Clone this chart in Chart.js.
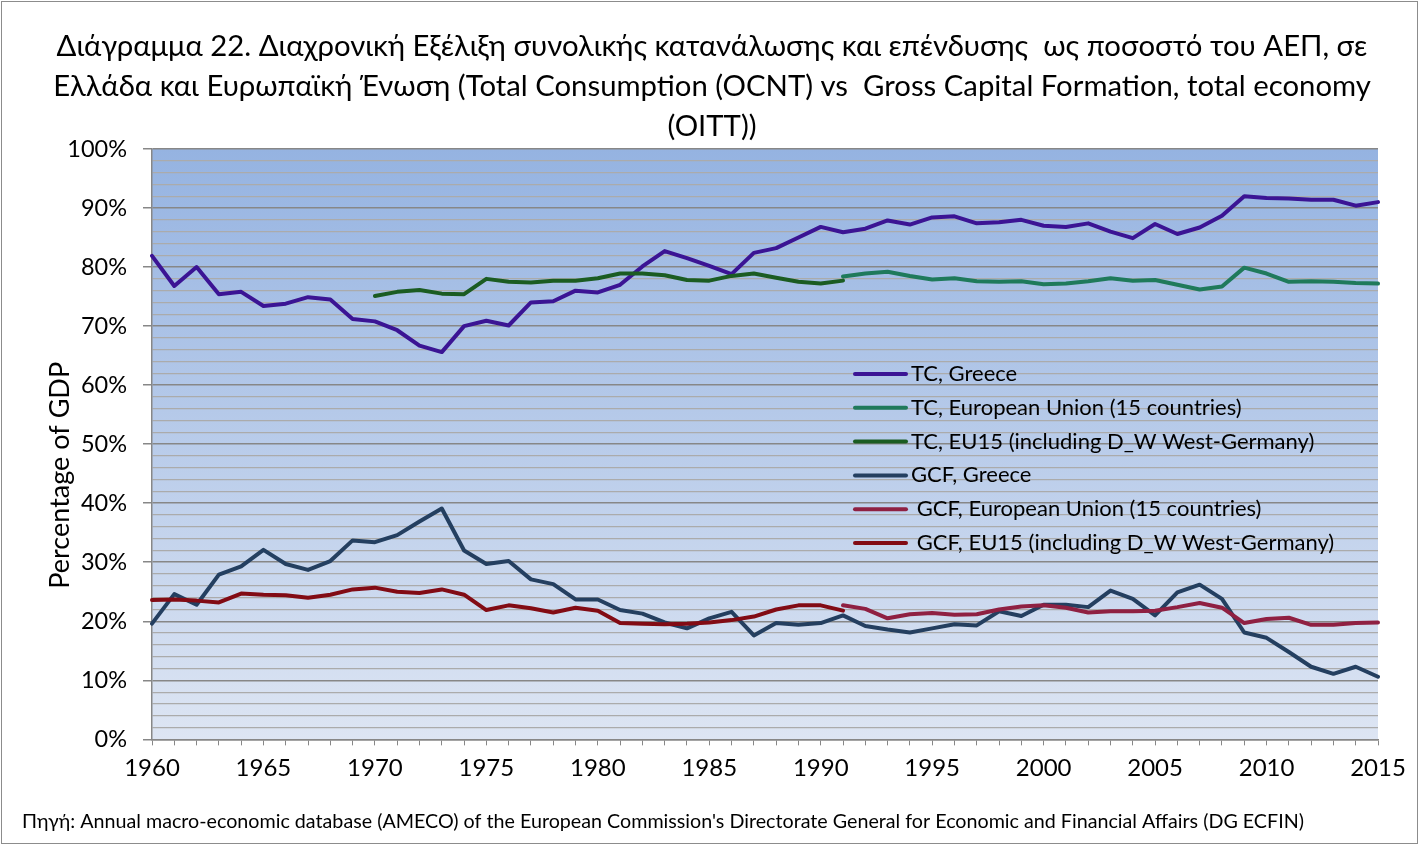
<!DOCTYPE html>
<html>
<head>
<meta charset="utf-8">
<title>Διάγραμμα 22</title>
<script src="https://cdn.jsdelivr.net/npm/chart.js@4.4.1/dist/chart.umd.min.js"></script>
<style>
	html, body { margin: 0; padding: 0; background: #fff; }
	canvas { display: block; }
</style>
</head>
<body>
<canvas id="chart" width="1424" height="845"></canvas>
<script>
// Years on the x axis
const years = [
	1960, 1961, 1962, 1963, 1964, 1965, 1966, 1967, 1968, 1969,
	1970, 1971, 1972, 1973, 1974, 1975, 1976, 1977, 1978, 1979,
	1980, 1981, 1982, 1983, 1984, 1985, 1986, 1987, 1988, 1989,
	1990, 1991, 1992, 1993, 1994, 1995, 1996, 1997, 1998, 1999,
	2000, 2001, 2002, 2003, 2004, 2005, 2006, 2007, 2008, 2009,
	2010, 2011, 2012, 2013, 2014, 2015
];

// Total consumption, % of GDP
const tcGreece = [
	81.9, 76.8, 80.0, 75.4, 75.8, 73.4, 73.8, 74.9, 74.5, 71.2,
	70.8, 69.3, 66.7, 65.6, 70.0, 70.9, 70.1, 74.0, 74.2, 76.0,
	75.7, 77.0, 80.1, 82.7, 81.5, 80.2, 78.8, 82.4, 83.2, 85.0,
	86.8, 85.9, 86.5, 87.9, 87.2, 88.4, 88.6, 87.4, 87.6, 88.0,
	87.0, 86.8, 87.4, 86.0, 84.9, 87.3, 85.6, 86.7, 88.7, 92.0,
	91.7, 91.6, 91.4, 91.4, 90.4, 91.0
];
const tcEU15 = [
	null, null, null, null, null, null, null, null, null, null,
	null, null, null, null, null, null, null, null, null, null,
	null, null, null, null, null, null, null, null, null, null,
	null, 78.4, 78.9, 79.2, 78.5, 77.9, 78.1, 77.6, 77.5, 77.6,
	77.1, 77.2, 77.6, 78.1, 77.7, 77.8, 77.0, 76.2, 76.7, 79.9,
	78.9, 77.5, 77.6, 77.5, 77.3, 77.2
];
const tcEU15DW = [
	null, null, null, null, null, null, null, null, null, null,
	75.1, 75.8, 76.1, 75.5, 75.4, 78.0, 77.5, 77.4, 77.7, 77.7,
	78.1, 78.9, 78.9, 78.6, 77.8, 77.7, 78.5, 78.9, 78.2, 77.5,
	77.2, 77.7, null, null, null, null, null, null, null, null,
	null, null, null, null, null, null, null, null, null, null,
	null, null, null, null, null, null
];

// Gross capital formation, % of GDP
const gcfGreece = [
	19.6, 24.6, 22.8, 27.9, 29.3, 32.1, 29.7, 28.7, 30.2, 33.7,
	33.4, 34.6, 36.9, 39.1, 32.0, 29.7, 30.2, 27.1, 26.3, 23.7,
	23.7, 21.9, 21.3, 19.8, 18.8, 20.5, 21.6, 17.6, 19.7, 19.4,
	19.7, 21.0, 19.2, 18.6, 18.1, 18.8, 19.5, 19.3, 21.7, 20.9,
	22.8, 22.8, 22.4, 25.2, 23.8, 21.0, 24.9, 26.2, 23.8, 18.1,
	17.2, 14.8, 12.3, 11.1, 12.3, 10.6
];
const gcfEU15 = [
	null, null, null, null, null, null, null, null, null, null,
	null, null, null, null, null, null, null, null, null, null,
	null, null, null, null, null, null, null, null, null, null,
	null, 22.7, 22.1, 20.5, 21.2, 21.4, 21.1, 21.2, 22.0, 22.5,
	22.7, 22.3, 21.5, 21.7, 21.7, 21.8, 22.4, 23.1, 22.3, 19.7,
	20.4, 20.6, 19.4, 19.4, 19.7, 19.8
];
const gcfEU15DW = [
	23.6, 23.7, 23.5, 23.2, 24.7, 24.5, 24.4, 24.0, 24.5, 25.4,
	25.7, 25.0, 24.8, 25.4, 24.5, 21.9, 22.7, 22.2, 21.5, 22.3,
	21.8, 19.7, 19.6, 19.5, 19.6, 19.8, 20.2, 20.8, 22.0, 22.7,
	22.7, 21.8, null, null, null, null, null, null, null, null,
	null, null, null, null, null, null, null, null, null, null,
	null, null, null, null, null, null
];

const seriesLabels = [
	"TC, Greece",
	"TC, European Union (15 countries)",
	"TC, EU15 (including D_W West-Germany)",
	"GCF, Greece",
	" GCF, European Union (15 countries)",
	" GCF, EU15 (including D_W West-Germany)"
];
const seriesColors = ["#3b1494", "#1f7a5b", "#1b5c22", "#243f60", "#8f2042", "#820b14"];
const seriesData = [tcGreece, tcEU15, tcEU15DW, gcfGreece, gcfEU15, gcfEU15DW];

const FONT = "Lato, 'Noto Sans', sans-serif";
const GRID_MAJOR = "#878787";
const GRID_MINOR = "#ababab";

// Paints the white page, the blue gradient plot area and the outer frame
const backdrop = {
	id: "backdrop",
	beforeDraw(chart) {
		const { ctx, chartArea: a, width, height } = chart;
		ctx.save();
		ctx.fillStyle = "#ffffff";
		ctx.fillRect(0, 0, width, height);
		const g = ctx.createLinearGradient(0, a.top, 0, a.bottom);
		g.addColorStop(0, "#95b3e1");
		g.addColorStop(1, "#dde5f3");
		ctx.fillStyle = g;
		ctx.fillRect(a.left, a.top, a.right - a.left, a.bottom - a.top);
		ctx.strokeStyle = "#8c8c8c";
		ctx.lineWidth = 1;
		ctx.strokeRect(1.5, 1.5, width - 8, height - 3);
		ctx.restore();
	}
};

// Legend drawn inside the plot area, like the spreadsheet original
const innerLegend = {
	id: "innerLegend",
	afterDatasetsDraw(chart) {
		const ctx = chart.ctx;
		const x0 = 853, y0 = 374, rowH = 33.8, sample = 55;
		ctx.save();
		ctx.font = "22px " + FONT;
		ctx.textBaseline = "middle";
		ctx.lineCap = "round";
		chart.data.datasets.forEach((ds, i) => {
			const y = y0 + i * rowH;
			ctx.strokeStyle = ds.borderColor;
			ctx.lineWidth = 4;
			ctx.beginPath();
			ctx.moveTo(x0 + 2, y);
			ctx.lineTo(x0 + sample - 2, y);
			ctx.stroke();
			ctx.fillStyle = "#000";
			ctx.fillText(ds.label, x0 + sample + 3, y);
		});
		ctx.restore();
	}
};

const datasets = seriesData.map((values, i) => ({
	label: seriesLabels[i],
	data: values,
	borderColor: seriesColors[i],
	backgroundColor: seriesColors[i],
	borderWidth: 4,
	pointRadius: 0,
	tension: 0,
	spanGaps: false,
	borderCapStyle: "round",
	borderJoinStyle: "round",
	order: seriesData.length - i // later series on top, as in the original
}));

new Chart(document.getElementById("chart"), {
	type: "line",
	data: { labels: years, datasets: datasets },
	plugins: [backdrop, innerLegend],
	options: {
		responsive: false,
		animation: false,
		layout: { padding: { left: 22, right: 22, top: 0, bottom: 0 } },
		plugins: {
			legend: { display: false },
			tooltip: { enabled: false },
			title: {
				display: true,
				text: [
					"Διάγραμμα 22. Διαχρονική Εξέλιξη συνολικής κατανάλωσης και επένδυσης  ως ποσοστό του ΑΕΠ, σε",
					"Ελλάδα και Ευρωπαϊκή Ένωση (Total Consumption (OCNT) vs  Gross Capital Formation, total economy",
					"(OITT))"
				],
				color: "#000",
				font: { family: FONT, size: 29.3, weight: "normal", lineHeight: 1.365 },
				padding: { top: 27, bottom: 2 }
			},
			subtitle: {
				display: true,
				position: "bottom",
				align: "start",
				text: "Πηγή: Annual macro-economic database (AMECO) of the European Commission's Directorate General for Economic and Financial Affairs (DG ECFIN)",
				color: "#000",
				font: { family: FONT, size: 19.7, weight: "normal", lineHeight: 1.2 },
				padding: { top: 20, bottom: 12 }
			}
		},
		scales: {
			x: {
				type: "category",
				offset: false,
				grid: {
					drawOnChartArea: false,
					color: GRID_MAJOR,
					tickColor: GRID_MAJOR,
					tickLength: 6
				},
				border: { color: GRID_MAJOR, width: 1.5 },
				ticks: {
					autoSkip: false,
					maxRotation: 0,
					padding: 9,
					color: "#000",
					font: { family: FONT, size: 24 },
					callback: (val, i) => (years[i] % 5 === 0 ? String(years[i]) : "")
				},
				afterFit: (s) => { s.height = 50; }
			},
			y: {
				min: 0,
				max: 100,
				grid: {
					color: (c) => (c.tick && c.tick.value % 10 === 0 ? GRID_MAJOR : GRID_MINOR),
					tickColor: (c) => (c.tick && c.tick.value % 10 === 0 ? GRID_MAJOR : "rgba(0,0,0,0)"),
					lineWidth: (c) => (c.tick && c.tick.value % 10 === 0 ? 1.5 : 1.2),
					tickLength: 9
				},
				border: { color: GRID_MAJOR, width: 1.5 },
				ticks: {
					stepSize: 2,
					maxTicksLimit: 60,
					autoSkip: false,
					padding: 16,
					color: "#000",
					font: { family: FONT, size: 23.5 },
					callback: (v) => (v % 10 === 0 ? v + "%" : "")
				},
				title: {
					display: true,
					// trailing spaces nudge the title down, as it sits below centre in the original
					text: "Percentage of GDP         ",
					color: "#000",
					font: { family: FONT, size: 27 },
					padding: { top: 22, bottom: 0 }
				},
				afterFit: (s) => { s.width = 130; }
			},
			// empty right-hand box so the plot ends where the original does
			y2: {
				position: "right",
				display: true,
				grid: { display: false },
				border: { display: false },
				ticks: { display: false },
				afterFit: (s) => { s.width = 24; }
			}
		}
	}
});
</script>
</body>
</html>
